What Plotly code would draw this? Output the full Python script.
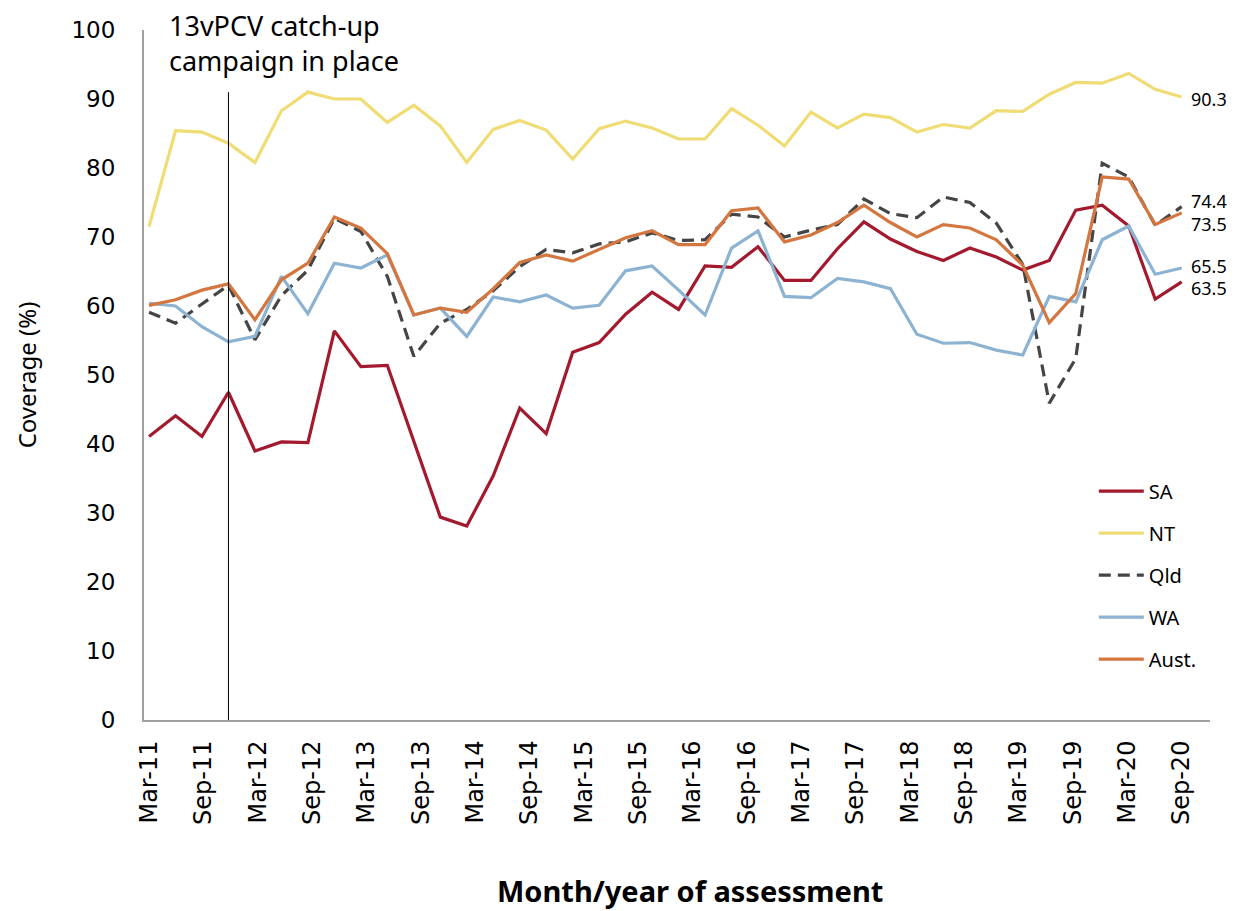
import numpy as np
import plotly.graph_objects as go

# ---- data (coverage %, 40 assessments from Mar-11 to Sep-20) ----
tick_labels = ["Mar-11", "Sep-11", "Mar-12", "Sep-12", "Mar-13", "Sep-13", "Mar-14",
               "Sep-14", "Mar-15", "Sep-15", "Mar-16", "Sep-16", "Mar-17", "Sep-17",
               "Mar-18", "Sep-18", "Mar-19", "Sep-19", "Mar-20", "Sep-20"]

sa = [41.1, 44.1, 41.1, 47.5, 39.0, 40.3, 40.2, 56.4, 51.2, 51.4,
      40.4, 29.4, 28.1, 35.4, 45.2, 41.5, 53.3, 54.7, 58.8, 62.0,
      59.5, 65.8, 65.6, 68.6, 63.7, 63.7, 68.3, 72.2, 69.7, 67.9,
      66.6, 68.4, 67.1, 65.2, 66.6, 73.9, 74.6, 71.6, 61.0, 63.5]

nt = [71.5, 85.4, 85.2, 83.6, 80.8, 88.3, 91.0, 90.0, 90.0, 86.6,
      89.1, 86.1, 80.8, 85.6, 86.9, 85.5, 81.3, 85.7, 86.8, 85.8,
      84.2, 84.2, 88.6, 86.2, 83.2, 88.1, 85.8, 87.8, 87.3, 85.2,
      86.3, 85.8, 88.3, 88.2, 90.7, 92.4, 92.3, 93.7, 91.4, 90.3]

qld = [59.1, 57.5, 60.3, 63.0, 55.1, 61.5, 65.2, 72.7, 70.8, 64.3,
       52.7, 57.5, 59.5, 62.2, 65.7, 68.2, 67.7, 69.0, 69.3, 70.6,
       69.5, 69.6, 73.3, 72.9, 70.0, 71.0, 71.8, 75.5, 73.4, 72.8,
       75.8, 75.0, 72.0, 66.0, 45.9, 52.4, 80.7, 78.7, 71.7, 74.4]

wa = [60.4, 60.0, 57.0, 54.8, 55.6, 64.3, 58.9, 66.2, 65.5, 67.4,
      58.7, 59.7, 55.6, 61.3, 60.6, 61.6, 59.7, 60.1, 65.1, 65.8,
      62.3, 58.7, 68.4, 70.9, 61.4, 61.2, 64.0, 63.5, 62.5, 55.9,
      54.6, 54.7, 53.6, 52.9, 61.4, 60.6, 69.6, 71.6, 64.6, 65.5]

aust = [60.1, 60.9, 62.3, 63.2, 58.0, 63.8, 66.2, 72.9, 71.3, 67.6,
        58.7, 59.7, 59.1, 62.5, 66.3, 67.4, 66.5, 68.2, 69.9, 70.9,
        68.9, 68.9, 73.8, 74.2, 69.3, 70.3, 72.1, 74.6, 72.1, 70.0,
        71.8, 71.3, 69.6, 65.9, 57.6, 61.8, 78.7, 78.4, 71.8, 73.5]

campaign_index = 3        # Dec-11 assessment
campaign_line_top = 91.0

x = np.arange(len(sa))
tickvals = np.linspace(0, len(sa) - 1, len(tick_labels))

FONT = "Noto Sans"
TICKFONT = "DejaVu Sans"

series = [
    ("SA", sa, "#A3192D", "solid"),
    ("NT", nt, "#F0DC74", "solid"),
    ("Qld", qld, "#454545", "12px,7px"),
    ("WA", wa, "#8DB3D3", "solid"),
    ("Aust.", aust, "#D3763F", "solid"),
]

fig = go.Figure()
for name, vals, col, dash in series:
    fig.add_trace(go.Scatter(
        x=x, y=vals, name=name, mode="lines",
        line=dict(color=col, width=3.2, dash=dash),
        legendgroup=name, cliponaxis=False,
    ))

# vertical campaign marker
fig.add_shape(type="line", xref="x", yref="y",
              x0=campaign_index, x1=campaign_index, y0=0, y1=campaign_line_top,
              line=dict(color="black", width=1))

fig.add_annotation(xref="paper", yref="paper", x=0.0216, y=1.036,
                   xanchor="left", yanchor="top", align="left", showarrow=False,
                   text="13vPCV catch-up<br>campaign in place",
                   font=dict(family=FONT, size=27, color="black"))

# x-axis title (slightly right of the plot centre, as in the original)
fig.add_annotation(xref="paper", yref="paper", x=0.512, y=-0.2464,
                   xanchor="center", yanchor="middle", showarrow=False,
                   text="<b>Month/year of assessment</b>",
                   font=dict(family=FONT, size=29, color="black"))

# end labels
end_labels = [(nt, -2), (qld, 6), (aust, -11), (wa, 2), (sa, -6)]
for vals, ys in end_labels:
    fig.add_annotation(xref="x", yref="y", x=x[-1], y=vals[-1],
                       text=f"{vals[-1]:.1f}", showarrow=False,
                       xanchor="left", yanchor="middle", xshift=7, yshift=ys,
                       font=dict(family=FONT, size=18, color="black"))

# page body has an 8px default margin, so the figure is 8px smaller
fig.update_layout(
    width=1230, height=903,
    margin=dict(l=136, r=28, t=22, b=191, autoexpand=False),
    paper_bgcolor="white", plot_bgcolor="white",
    font=dict(family=FONT, color="black"),
    showlegend=True,
    legend=dict(x=0.891, y=0.36, xanchor="left", yanchor="top",
                font=dict(family=FONT, size=20, color="black"),
                itemwidth=45, tracegroupgap=13, bgcolor="rgba(0,0,0,0)"),
    xaxis=dict(range=[-0.19, 40.07], tickmode="array", tickvals=tickvals,
               ticktext=tick_labels, tickangle=-90, showgrid=False,
               zeroline=False, showline=True, linecolor="#A0A0A0", linewidth=2,
               ticks="", ticklabelstandoff=9, automargin=False,
               tickfont=dict(family=TICKFONT, size=24, color="black")),
    yaxis=dict(range=[0, 100], tickmode="linear", tick0=0, dtick=10,
               showgrid=False, zeroline=False, showline=True, automargin=False,
               linecolor="#A0A0A0", linewidth=2, ticks="", ticklabelstandoff=22,
               tickfont=dict(family=TICKFONT, size=23, color="black"),
               title=dict(text="Coverage (%)", standoff=28,
                          font=dict(family=FONT, size=24, color="black"))),
)

fig.write_html("out.html")
